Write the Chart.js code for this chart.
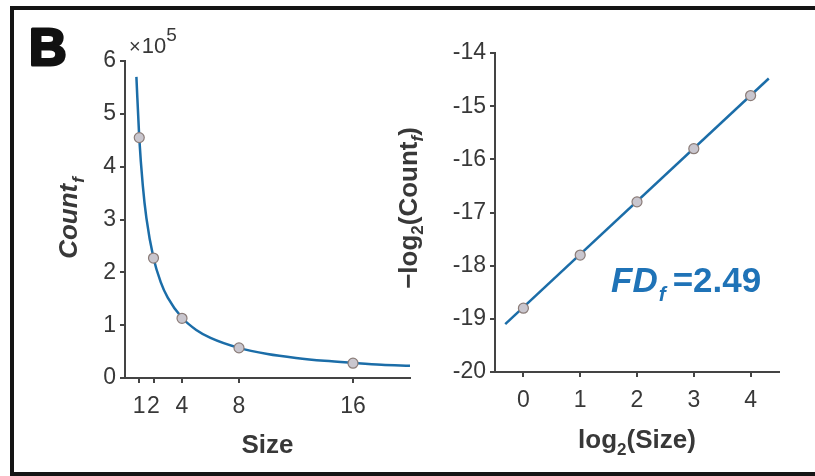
<!DOCTYPE html>
<html>
<head>
<meta charset="utf-8">
<script src="https://cdn.jsdelivr.net/npm/chart.js@4"></script>
<style>
    body { margin: 0; background: #fff; }
    #frame { position: absolute; left: 10px; top: 6px; width: 830px; height: 470px; border: 4px solid #151515; box-sizing: border-box; }
    .box { position: absolute; top: 0; height: 476px; }
    #leftBox { left: 0; width: 420px; }
    #rightBox { left: 385px; width: 430px; }
</style>
</head>
<body>
<div id="frame"></div>
<div class="box" id="leftBox"><canvas id="countChart"></canvas></div>
<div class="box" id="rightBox"><canvas id="logChart"></canvas></div>
<script>
// left panel: Count_f (x10^5) against box size
const sizes = [1, 2, 4, 8, 16];
const counts = [4.55, 2.27, 1.13, 0.57, 0.28];
const fitSizes = [0.8, 1, 1.25, 1.5, 2, 2.5, 3, 4, 5, 6, 8, 10, 12, 14, 16, 18, 20];
const fitCounts = [5.7, 4.55, 3.64, 3.03, 2.27, 1.82, 1.52, 1.14, 0.91, 0.76, 0.57, 0.455, 0.38, 0.325, 0.285, 0.25, 0.23];
const sizeTicks = [1, 2, 4, 8, 16];

// right panel: -log2(Count_f) against log2(Size)
const logSizes = [0, 1, 2, 3, 4];
const negLogCounts = [-18.8, -17.8, -16.8, -15.8, -14.8];
const fitLogSizes = [-0.32, 4.32];
const fitNegLogCounts = [-19.1, -14.48];
const logSizeTicks = [0, 1, 2, 3, 4];

const FONT = "'Liberation Sans', Arial, Helvetica, sans-serif";
const BLUE = '#1b6da8';
const INK = '#383838';

const pairs = (xs, ys) => xs.map((x, i) => ({x: x, y: ys[i]}));

function axis(min, max, tickValues, size, vertical, stepSize) {
    return {
        type: 'linear',
        min: min,
        max: max,
        border: {display: true, color: '#444', width: 2},
        grid: {drawOnChartArea: false, drawTicks: true, tickLength: 5, color: '#444', lineWidth: 2},
        ticks: {
            font: {family: FONT, size: 23},
            color: INK,
            autoSkip: false,
            maxRotation: 0,
            padding: vertical ? 4 : 10,
            stepSize: stepSize
        },
        afterBuildTicks: s => {
            if (tickValues) s.ticks = tickValues.map(v => ({value: v}))
        },
        afterFit: s => {
            if (vertical) s.width = size; else s.height = size;
        }
    }
}

// text runs with sub/superscripts, optionally rotated
function drawRuns(ctx, runs, x, y, align, rotated) {
    ctx.save();
    ctx.translate(x, y);
    if (rotated) ctx.rotate(-Math.PI / 2);
    ctx.textBaseline = 'alphabetic';
    let w = 0;
    runs.forEach(r => { ctx.font = r.font; w += ctx.measureText(r.text).width + (r.gap || 0) });
    let cx = align === 'center' ? -w / 2 : 0;
    runs.forEach(r => {
        ctx.font = r.font;
        ctx.fillStyle = r.color || INK;
        ctx.fillText(r.text, cx, r.dy || 0);
        if (r.stroke) {
            ctx.strokeStyle = r.color || INK;
            ctx.lineWidth = r.stroke;
            ctx.lineJoin = 'round';
            ctx.strokeText(r.text, cx, r.dy || 0);
        }
        cx += ctx.measureText(r.text).width + (r.gap || 0);
    });
    ctx.restore();
}

const leftText = {
    id: 'leftText',
    afterDraw(chart) {
        const ctx = chart.ctx;
        drawRuns(ctx, [{text: 'B', font: `bold 52px ${FONT}`, color: '#111', stroke: 3}], 29, 65, 'left');
        drawRuns(ctx, [
            {text: '\u00d7', font: `20px ${FONT}`, gap: 1},
            {text: '10', font: `22px ${FONT}`},
            {text: '5', font: `19px ${FONT}`, dy: -12}
        ], 129, 53, 'left');
        drawRuns(ctx, [
            {text: 'Count', font: `italic bold 26px ${FONT}`, gap: 1},
            {text: 'f', font: `italic bold 17px ${FONT}`, dy: 7}
        ], 77, 218, 'center', true);
        drawRuns(ctx, [{text: 'Size', font: `bold 26px ${FONT}`}], 267.5, 453, 'center');
    }
};

const rightText = {
    id: 'rightText',
    afterDraw(chart) {
        const ctx = chart.ctx;
        const ox = 385;
        drawRuns(ctx, [
            {text: '\u2212log', font: `bold 26px ${FONT}`},
            {text: '2', font: `bold 17px ${FONT}`, dy: 6},
            {text: '(Count', font: `bold 26px ${FONT}`},
            {text: 'f', font: `italic bold 17px ${FONT}`, dy: 6},
            {text: ')', font: `bold 26px ${FONT}`}
        ], 417 - ox, 208, 'center', true);
        drawRuns(ctx, [
            {text: 'log', font: `bold 26px ${FONT}`},
            {text: '2', font: `bold 17px ${FONT}`, dy: 7},
            {text: '(Size)', font: `bold 26px ${FONT}`}
        ], 637 - ox, 448, 'center');
        drawRuns(ctx, [
            {text: 'FD', font: `italic bold 35px ${FONT}`, color: '#1f73b7', gap: 1},
            {text: 'f', font: `italic bold 21px ${FONT}`, color: '#1f73b7', dy: 9, gap: 7},
            {text: '=2.49', font: `bold 35px ${FONT}`, color: '#1f73b7'}
        ], 611 - ox, 292, 'left');
    }
};

const pointStyle = {
    pointRadius: 5,
    pointBackgroundColor: '#c9c6ce',
    pointBorderColor: '#8b7c78',
    pointBorderWidth: 1.2,
    showLine: false
};

const common = {
    responsive: true,
    maintainAspectRatio: false,
    animation: false,
    plugins: {legend: {display: false}, tooltip: {enabled: false}}
};

new Chart(document.getElementById('countChart'), {
    type: 'scatter',
    data: {
        datasets: [
            Object.assign({data: pairs(sizes, counts), order: 0}, pointStyle),
            {
                data: pairs(fitSizes, fitCounts),
                order: 1,
                showLine: true,
                pointRadius: 0,
                borderColor: BLUE,
                borderWidth: 2.5,
                cubicInterpolationMode: 'monotone'
            }
        ]
    },
    options: Object.assign({}, common, {
        layout: {padding: {left: 0, top: 61, right: 10, bottom: 0}},
        scales: {
            x: axis(0, 20, sizeTicks, 98, false),
            y: axis(0, 6, null, 125, true, 1)
        }
    }),
    plugins: [leftText]
});

new Chart(document.getElementById('logChart'), {
    type: 'scatter',
    data: {
        datasets: [
            Object.assign({data: pairs(logSizes, negLogCounts), order: 0}, pointStyle),
            {
                data: pairs(fitLogSizes, fitNegLogCounts),
                order: 1,
                showLine: true,
                pointRadius: 0,
                borderColor: BLUE,
                borderWidth: 2.5
            }
        ]
    },
    options: Object.assign({}, common, {
        layout: {padding: {left: 0, top: 53, right: 36, bottom: 0}},
        scales: {
            x: axis(-0.5, 4.5, logSizeTicks, 104, false),
            y: axis(-20, -14, null, 110, true, 1)
        }
    }),
    plugins: [rightText]
});
</script>
</body>
</html>
